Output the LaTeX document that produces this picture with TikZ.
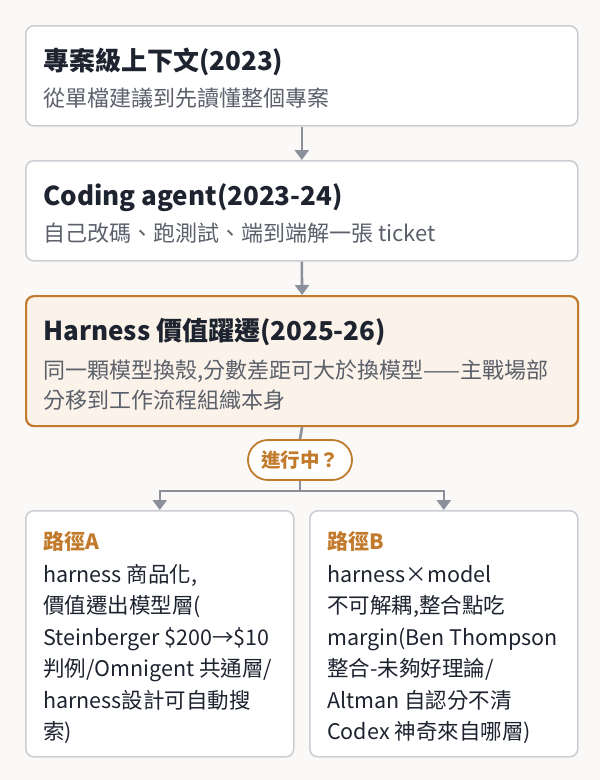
\documentclass[tikz,border=0pt]{standalone}
\usepackage{fontspec}
\setmainfont{Noto Sans CJK TC}
\usetikzlibrary{positioning,arrows.meta}

\definecolor{pagebg}{HTML}{FAF9F7}
\definecolor{boxline}{HTML}{CBCED4}
\definecolor{titleink}{HTML}{1E2330}
\definecolor{noteink}{HTML}{5B606B}
\definecolor{flowgray}{HTML}{8B909A}
\definecolor{amber}{HTML}{C27A2C}
\definecolor{amberfill}{HTML}{FBF3E9}

\tikzset{
  stagebox/.style={draw=boxline, line width=1.6pt, fill=white, rounded corners=8pt,
    minimum width=552pt, minimum height=100pt, inner sep=0pt, anchor=north west},
  hotbox/.style={stagebox, draw=amber, line width=2.2pt, fill=amberfill, minimum height=130pt},
  pathbox/.style={stagebox, minimum width=268pt, minimum height=246pt},
  titletext/.style={inner sep=0pt, anchor=base west, text=titleink,
    font=\fontsize{26}{30}\selectfont\bfseries},
  notetext/.style={inner sep=0pt, anchor=base west, align=left, text=noteink,
    font=\fontsize{22}{30}\selectfont},
  pathtitle/.style={inner sep=0pt, anchor=base west, text=amber,
    font=\fontsize{21}{30}\selectfont\bfseries},
  pathtext/.style={inner sep=0pt, anchor=base west, align=left, text=titleink,
    font=\fontsize{21.5}{31.5}\selectfont},
  pill/.style={draw=amber, line width=1.8pt, fill=white, rounded corners=20pt,
    minimum width=104pt, minimum height=40pt, inner sep=0pt, text=amber,
    font=\fontsize{19.5}{22}\selectfont\bfseries},
  flow/.style={draw=flowgray, line width=2.6pt, -{Triangle[width=14pt,length=10pt]}},
  wire/.style={draw=flowgray, line width=2.6pt}
}

\begin{document}
\begin{tikzpicture}[x=1pt,y=-1pt]
  \fill[pagebg] (0,0) rectangle (600,780);
  \useasboundingbox (0,0) rectangle (600,780);

  % stages (multi-line texts sit on the baseline of their last line)
  \node[stagebox] (context) at (25,25) {};
  \node[titletext] (contexttitle) at ([xshift=18pt,yshift=-45pt]context.north west) {專案級上下文(2023)};
  \node[notetext] (contextnote) at ([xshift=18pt,yshift=-81pt]context.north west) {從單檔建議到先讀懂整個專案};

  \node[stagebox] (agent) at (25,160) {};
  \node[titletext] (agenttitle) at ([xshift=18pt,yshift=-45pt]agent.north west) {Coding agent(2023-24)};
  \node[notetext] (agentnote) at ([xshift=18pt,yshift=-81pt]agent.north west) {自己改碼、跑測試、端到端解一張 ticket};

  \node[hotbox] (harness) at (25,295) {};
  \node[titletext] (harnesstitle) at ([xshift=18pt,yshift=-45pt]harness.north west) {Harness 價值躍遷(2025-26)};
  \node[notetext] (harnessnote) at ([xshift=18pt,yshift=-113pt]harness.north west)
    {同一顆模型換殼,分數差距可大於換模型——主戰場部\\分移到工作流程組織本身};

  \node[pill] (ongoing) at (300,460) {進行中？};

  % branches
  \node[pathbox] (pathA) at (25,510) {};
  \node[pathtitle] (pathAtitle) at ([xshift=18pt,yshift=-39pt]pathA.north west) {路徑A};
  \node[pathtext] (pathAtext) at ([xshift=18pt,yshift=-229.5pt]pathA.north west)
    {harness 商品化,\\價值遷出模型層(\\Steinberger \$200→\$10\\判例/Omnigent 共通層/\\harness設計可自動搜\\索)};

  \node[pathbox] (pathB) at (309,510) {};
  \node[pathtitle] (pathBtitle) at ([xshift=18pt,yshift=-39pt]pathB.north west) {路徑B};
  \node[pathtext] (pathBtext) at ([xshift=18pt,yshift=-229.5pt]pathB.north west)
    {harness×model\\不可解耦,整合點吃\\margin(Ben Thompson\\整合-未夠好理論/\\Altman 自認分不清\\Codex 神奇來自哪層)};

  % connectors
  \draw[flow] (context.south) -- (agent.north);
  \draw[flow] (agent.south) -- (harness.north);
  \draw[wire] (harness.south) -- (ongoing.north);
  \draw[flow] (ongoing.south) -- ++(0,10) -| (pathA.north);
  \draw[flow] (ongoing.south) -- ++(0,10) -| (pathB.north);
\end{tikzpicture}
\end{document}
